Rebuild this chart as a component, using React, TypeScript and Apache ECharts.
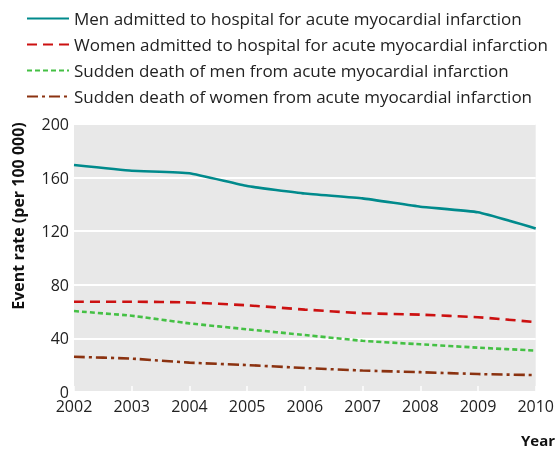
import React, { useEffect, useRef } from "react";
import * as echarts from "echarts";

const years = ["2002", "2003", "2004", "2005", "2006", "2007", "2008", "2009", "2010"];
const menHospital = [169.4, 165.1, 163.2, 153.7, 148.1, 144.5, 138.3, 134.1, 122.1];
const womenHospital = [67.4, 67.4, 66.8, 64.7, 61.5, 58.8, 57.7, 55.8, 52.2];
const menSudden = [60.4, 56.9, 51.2, 46.8, 42.5, 38.2, 35.6, 33.1, 30.9];
const womenSudden = [26.3, 24.9, 21.9, 20.1, 17.9, 16.0, 14.8, 13.4, 12.6];
const seriesNames = [
  "Men admitted to hospital for acute myocardial infarction",
  "Women admitted to hospital for acute myocardial infarction",
  "Sudden death of men from acute myocardial infarction",
  "Sudden death of women from acute myocardial infarction",
];
const yTicks = { min: 0, max: 200, interval: 40 };

const FONT = "'Open Sans', 'Noto Sans', sans-serif";

export default function App() {
  const ref = useRef<HTMLDivElement>(null);
  useEffect(() => {
    if (!ref.current) return;
    const chart = echarts.init(ref.current, undefined, { renderer: "svg" });
    const mk = (name: string, data: number[], color: string, type: any) => ({
      name,
      type: "line",
      data,
      symbol: "none",
      smooth: 0.12,
      lineStyle: { color, width: 2.6, type },
      itemStyle: { color },
    });
    chart.setOption({
      animation: false,
      textStyle: { fontFamily: FONT },
      legend: {
        orient: "vertical",
        left: 21,
        top: 5,
        itemWidth: 42,
        itemHeight: 14,
        itemGap: 9,
        itemStyle: { opacity: 0 },
        textStyle: { fontSize: 17, color: "#222", fontFamily: FONT },
        data: seriesNames,
      },
      grid: {
        left: 74,
        right: 21,
        top: 124,
        bottom: 59,
        show: true,
        backgroundColor: "#e8e8e8",
        borderWidth: 0,
      },
      xAxis: {
        type: "category",
        data: years,
        boundaryGap: false,
        axisLine: { show: false },
        axisTick: { show: true, inside: true, length: 6, lineStyle: { color: "#ffffff", width: 1.5 } },
        axisLabel: { fontSize: 16, color: "#222", margin: 6, fontFamily: FONT },
        splitLine: { show: false },
      },
      yAxis: {
        type: "value",
        min: yTicks.min,
        max: yTicks.max,
        interval: yTicks.interval,
        axisLine: { show: false },
        axisTick: { show: false },
        axisLabel: { fontSize: 16, color: "#222", margin: 5, fontFamily: FONT },
        splitLine: { show: true, lineStyle: { color: "#ffffff", width: 2 } },
      },
      graphic: [
        {
          type: "text",
          x: 18,
          y: 216,
          rotation: Math.PI / 2,
          style: {
            text: "Event rate (per 100 000)",
            fontSize: 16,
            fontWeight: "bold",
            fill: "#111",
            fontFamily: FONT,
            align: "center",
            verticalAlign: "middle",
          },
        },
        {
          type: "text",
          right: 2,
          top: 432,
          style: {
            text: "Year",
            fontSize: 15,
            fontWeight: "bold",
            fill: "#111",
            fontFamily: FONT,
          },
        },
      ],
      series: [
        mk(seriesNames[0], menHospital, "#008a8c", "solid"),
        mk(seriesNames[1], womenHospital, "#cc1111", [10, 6]),
        mk(seriesNames[2], menSudden, "#44c044", [5, 3]),
        mk(seriesNames[3], womenSudden, "#8b3210", [11, 4, 3, 4]),
      ],
    });
    return () => chart.dispose();
  }, []);
  return (
    <div style={{ position: "fixed", left: 0, top: 0, width: 557, height: 451 }}>
      <div ref={ref} style={{ width: 557, height: 451 }} />
    </div>
  );
}
